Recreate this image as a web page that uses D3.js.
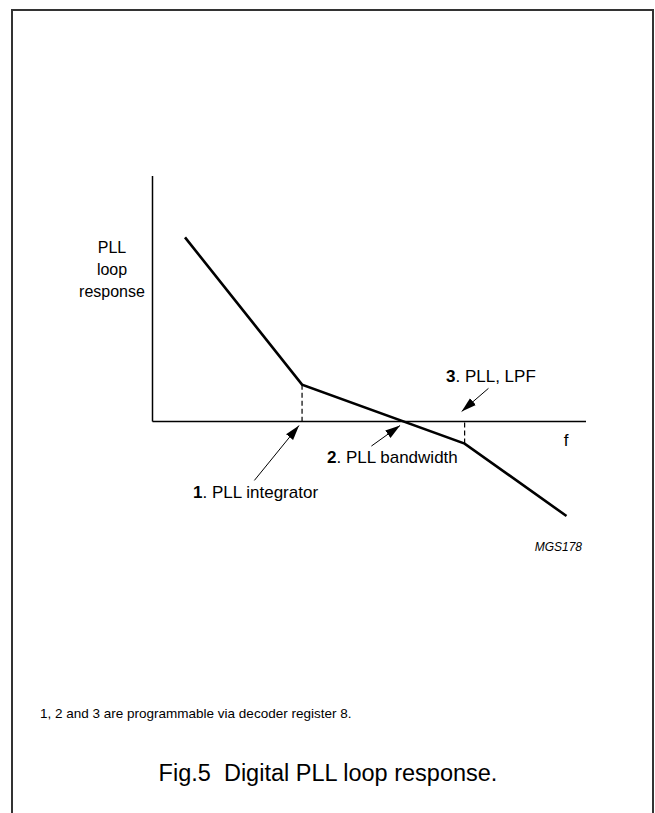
<!DOCTYPE html>
<html>
<head>
<meta charset="utf-8">
<script src="https://cdn.jsdelivr.net/npm/d3@7"></script>
<style>
  body { margin: 0; background: #fff; }
  svg { display: block; }
</style>
</head>
<body>
<div id="chart"></div>
<script>
// response curve (arbitrary units, f along x, response along y)
let freq = [7.5, 34.5, 72, 95.5];
let resp = [75, 15, -9, -38.5];

// the programmable points
let marks = [
  {num: "1", text: ". PLL integrator", f: 34.5, tail: [23.5, -24]},
  {num: "2", text: ". PLL bandwidth", f: 57.8, tail: [50.5, -10]},
  {num: "3", text: ". PLL, LPF", f: 72, tail: [77.5, 13.5]}
];

let width = 655, height = 813;

let svg = d3.select("#chart")
    .append("svg")
    .attr("width", width)
    .attr("height", height)
    .attr("font-family", "'Liberation Sans', Arial, sans-serif");

// frame, open at the bottom
svg.append("path")
    .attr("d", "M12,813 V10 H653 V813")
    .attr("fill", "none")
    .attr("stroke", "#333")
    .attr("stroke-width", 2);

let x = d3.scaleLinear().domain([0, 100]).range([152.5, 586]);
let y = d3.scaleLinear().domain([0, 100]).range([421.5, 176]);

// axes
svg.append("line")
    .attr("x1", x(0)).attr("x2", x(0))
    .attr("y1", y(0)).attr("y2", y(100))
    .attr("stroke", "#000").attr("stroke-width", 1.5);
svg.append("line")
    .attr("x1", x(0)).attr("x2", x(100))
    .attr("y1", y(0)).attr("y2", y(0))
    .attr("stroke", "#000").attr("stroke-width", 1.5);

let pts = freq.map((f, i) => [f, resp[i]]);

// dashed drops from the breakpoints
pts.slice(1, 3).forEach(p => {
  svg.append("line")
    .attr("x1", x(p[0])).attr("x2", x(p[0]))
    .attr("y1", y(p[1])).attr("y2", y(0))
    .attr("stroke", "#000")
    .attr("stroke-width", 1.2)
    .attr("stroke-dasharray", "5,3");
});

svg.append("path")
    .datum(pts)
    .attr("d", d3.line().x(d => x(d[0])).y(d => y(d[1])))
    .attr("fill", "none")
    .attr("stroke", "#000")
    .attr("stroke-width", 2.6)
    .attr("stroke-linejoin", "miter");

// arrows
svg.append("defs").append("marker")
    .attr("id", "head")
    .attr("viewBox", "0 0 10 10")
    .attr("refX", 10).attr("refY", 5)
    .attr("markerWidth", 15).attr("markerHeight", 15)
    .attr("markerUnits", "userSpaceOnUse")
    .attr("orient", "auto")
  .append("path")
    .attr("d", "M0,2 L10,5 L0,8 Z")
    .attr("fill", "#000");

marks.forEach(m => {
  let tipY = m.tail[1] < 0 ? y(0) + 4 : y(0) - 10;
  svg.append("line")
    .attr("x1", x(m.tail[0])).attr("y1", y(m.tail[1]))
    .attr("x2", x(m.f) - 3).attr("y2", tipY)
    .attr("stroke", "#000")
    .attr("stroke-width", 1)
    .attr("marker-end", "url(#head)");
});

let labelPos = [[193, 498], [327, 463], [446, 382]];
marks.forEach((m, i) => {
  let t = svg.append("text")
    .attr("x", labelPos[i][0]).attr("y", labelPos[i][1])
    .attr("font-size", 17);
  t.append("tspan").attr("font-weight", "bold").text(m.num);
  t.append("tspan").text(m.text);
});

// y label
["PLL", "loop", "response"].forEach((s, i) => {
  svg.append("text")
    .attr("x", 112).attr("y", 253 + i * 22)
    .attr("text-anchor", "middle")
    .attr("font-size", 16)
    .text(s);
});

svg.append("text")
    .attr("x", 566).attr("y", 446)
    .attr("text-anchor", "middle")
    .attr("font-size", 17)
    .text("f");

svg.append("text")
    .attr("x", 582).attr("y", 551)
    .attr("text-anchor", "end")
    .attr("font-size", 12)
    .attr("font-style", "italic")
    .text("MGS178");

svg.append("text")
    .attr("x", 40).attr("y", 718)
    .attr("font-size", 13.5)
    .text("1, 2 and 3 are programmable via decoder register 8.");

svg.append("text")
    .attr("x", 328).attr("y", 781)
    .attr("text-anchor", "middle")
    .attr("font-size", 23.5)
    .text("Fig.5  Digital PLL loop response.")
    .attr("xml:space", "preserve")
    .style("white-space", "pre");
</script>
</body>
</html>
